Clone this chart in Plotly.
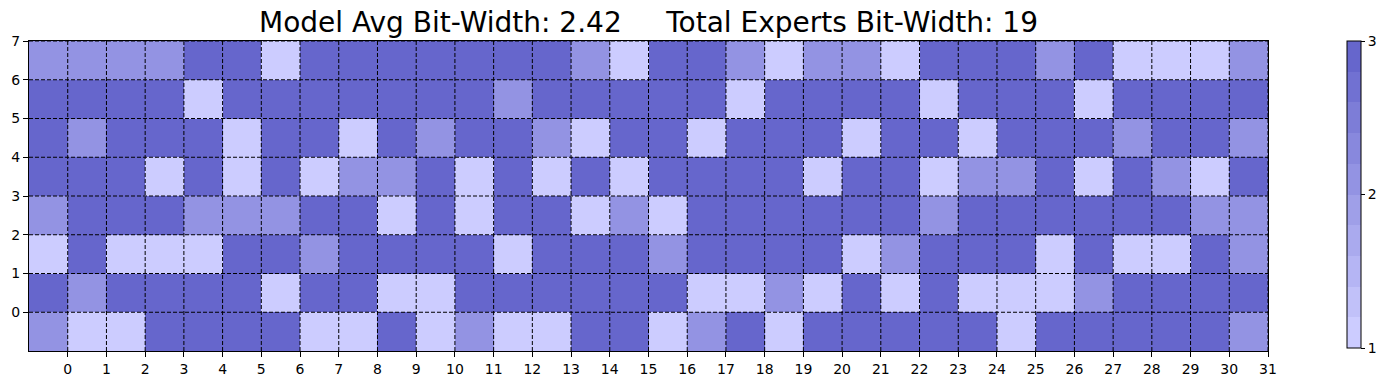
import plotly.graph_objects as go

# bit-width per expert: rows from bottom (y=-1..0) to top (y=6..7), 32 columns
row0 = [2,1,1,3,3,3,3,1,1,3,1,2,1,1,3,3, 1,2,3,1,3,3,3,3,3,1,3,3,3,3,3,2]
row1 = [3,2,3,3,3,3,1,3,3,1,1,3,3,3,3,3, 3,1,1,2,1,3,1,3,1,1,1,2,3,3,3,3]
row2 = [1,3,1,1,1,3,3,2,3,3,3,3,1,3,3,3, 2,3,3,3,3,1,2,3,3,3,1,3,1,1,3,2]
row3 = [2,3,3,3,2,2,2,3,3,1,3,1,3,3,1,2, 1,3,3,3,3,3,3,2,3,3,3,3,3,3,2,2]
row4 = [3,3,3,1,3,1,3,1,2,2,3,1,3,1,3,1, 3,3,3,3,1,3,3,1,2,2,3,1,3,2,1,3]
row5 = [3,2,3,3,3,1,3,3,1,3,2,3,3,2,1,3, 3,1,3,3,3,1,3,3,1,3,3,3,2,3,3,2]
row6 = [3,3,3,3,1,3,3,3,3,3,3,3,2,3,3,3, 3,3,1,3,3,3,3,1,3,3,3,1,3,3,3,3]
row7 = [2,2,2,2,3,3,1,3,3,3,3,3,3,3,2,1, 3,3,2,1,2,2,1,3,3,3,2,3,1,1,1,2]
rows = [row0, row1, row2, row3, row4, row5, row6, row7]

x_ticks = list(range(32))
y_ticks = list(range(8))
cbar_ticks = [1, 2, 3]
title_text = "Model Avg Bit-Width: 2.42     Total Experts Bit-Width: 19"

# cell centres: cell i spans [i-1, i]
x_centers = [t - 0.5 for t in x_ticks]
y_centers = [t - 0.5 for t in y_ticks]

# discrete 10-band colormap from light to dark
light = (204, 204, 255)
dark = (102, 102, 204)
N = 10
colorscale = []
for i in range(N):
    f = i / (N - 1)
    c = tuple(round(light[k] + (dark[k] - light[k]) * f) for k in range(3))
    col = "rgb(%d,%d,%d)" % c
    colorscale.append([i / N, col])
    colorscale.append([(i + 1) / N, col])

# page body has an 8px margin, so layout is offset by -8
OFF = 8
W, H = 1390, 384
L, R, T, B = 29 - OFF, 1268 - OFF, 41 - OFF, 351 - OFF
PW, PH = R - L, B - T

fig = go.Figure()
fig.add_trace(go.Heatmap(
    z=rows, x=x_centers, y=y_centers,
    zmin=1, zmax=3, colorscale=colorscale,
    colorbar=dict(
        xref="paper", x=(1347 - OFF - L) / PW, xanchor="left",
        yref="paper", y=1.0, yanchor="top",
        lenmode="pixels", len=PH - 3,
        thickness=14, outlinewidth=1, outlinecolor="black",
        tickvals=cbar_ticks, ticks="outside", ticklen=4, tickcolor="black",
        tickfont=dict(size=14, color="black", family="DejaVu Sans"),
        xpad=0, ypad=0,
    ),
))

shapes = []
for v in x_ticks:
    shapes.append(dict(type="line", xref="x", yref="y", x0=v, x1=v,
                       y0=y_ticks[0] - 1, y1=y_ticks[-1], layer="above",
                       line=dict(color="black", width=1, dash="4px,2px")))
for v in y_ticks:
    shapes.append(dict(type="line", xref="x", yref="y", y0=v, y1=v,
                       x0=x_ticks[0] - 1, x1=x_ticks[-1], layer="above",
                       line=dict(color="black", width=1, dash="4px,2px")))

axis_common = dict(showline=True, mirror=True, linecolor="black", linewidth=1,
                   ticks="outside", ticklen=5, tickcolor="black", showgrid=False,
                   zeroline=False, automargin=False,
                   tickfont=dict(size=14, color="black"))

fig.update_layout(
    width=W, height=H,
    margin=dict(l=L, r=W - R, t=T, b=H - B, autoexpand=False),
    paper_bgcolor="white", plot_bgcolor="white",
    font=dict(family="DejaVu Sans", color="black"),
    title=dict(text=title_text, x=(L + R) / 2 / W, xanchor="center",
               y=1 - (22 - OFF) / H, yanchor="middle", font=dict(size=28)),
    xaxis=dict(range=[x_ticks[0] - 1, x_ticks[-1]], tickvals=x_ticks, **axis_common),
    yaxis=dict(range=[y_ticks[0] - 1, y_ticks[-1]], tickvals=y_ticks, **axis_common),
    shapes=shapes,
)

fig.write_html("out.html")
